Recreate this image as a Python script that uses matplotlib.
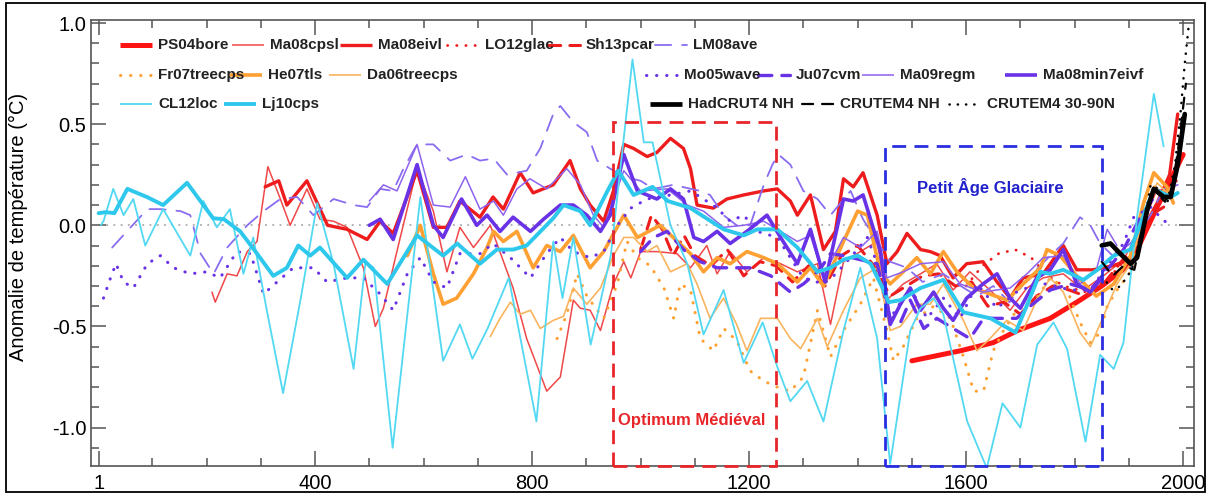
import matplotlib
matplotlib.use("Agg")
import matplotlib.pyplot as plt
from matplotlib.lines import Line2D
from matplotlib.patches import Rectangle

plt.rcParams['font.family'] = ['Liberation Sans', 'DejaVu Sans']
plt.rcParams['axes.unicode_minus'] = False

# ---- reconstructions (year, anomaly in degC) ----
ps04_year = [1500, 1590, 1650, 1695, 1755, 1810, 1850, 1903, 1952, 2000]
ps04_temp = [-0.67, -0.62, -0.58, -0.52, -0.46, -0.37, -0.30, -0.19, 0.09, 0.35]

ma08cpsl_year = [210, 216, 238, 256, 275, 293, 313, 336, 354, 385, 409, 434, 459, 489, 511, 526,
                 557, 588, 618, 643, 667, 692, 723, 765, 790, 827, 852, 876, 889, 907, 926, 950,
                 969, 982, 1000, 1030, 1067, 1092, 1122, 1141, 1165, 1196, 1227, 1258, 1289, 1326,
                 1350, 1374, 1405, 1436, 1454, 1484, 1516, 1546, 1576, 1607, 1644, 1681, 1712, 1742,
                 1779, 1816, 1853, 1890, 1927, 1952, 1975]
ma08cpsl_temp = [-0.33, -0.38, -0.24, -0.25, -0.13, -0.08, 0.29, 0.13, 0.00, 0.18, 0.03, 0.02, -0.01,
                 -0.21, -0.50, -0.41, -0.06, 0.28, 0.07, -0.23, -0.01, -0.11, 0.00, -0.31, -0.56, -0.82,
                 -0.75, -0.37, -0.41, -0.42, -0.52, -0.29, -0.18, -0.26, -0.13, -0.13, -0.14, -0.21,
                 -0.10, -0.24, -0.13, -0.23, -0.16, -0.19, -0.23, -0.19, -0.49, -0.18, -0.13, -0.08,
                 -0.37, -0.29, -0.24, -0.19, -0.32, -0.23, -0.32, -0.42, -0.31, -0.26, -0.24, -0.32,
                 -0.25, -0.17, 0.01, 0.18, 0.16]

ma08eivl_year = [308, 333, 348, 385, 423, 459, 496, 520, 544, 588, 618, 643, 667, 704, 728, 747, 778,
                 802, 839, 870, 889, 907, 932, 950, 969, 987, 1012, 1030, 1055, 1079, 1092, 1104, 1134,
                 1159, 1190, 1227, 1252, 1276, 1289, 1313, 1337, 1359, 1374, 1392, 1410, 1436, 1454,
                 1473, 1491, 1516, 1534, 1552, 1576, 1601, 1631, 1657, 1681, 1705, 1742, 1779, 1804,
                 1834, 1870, 1903, 1930, 1952, 1975, 1990]
ma08eivl_temp = [0.19, 0.22, 0.10, 0.22, 0.00, -0.02, -0.07, 0.02, -0.04, 0.27, -0.01, -0.01, 0.12,
                 0.04, 0.14, 0.08, 0.26, 0.16, 0.20, 0.32, 0.18, 0.10, 0.02, 0.17, 0.40, 0.38, 0.34,
                 0.36, 0.43, 0.38, 0.28, 0.10, 0.085, 0.13, 0.15, 0.17, 0.18, 0.12, 0.05, 0.15, -0.12,
                 -0.03, 0.23, 0.19, 0.26, 0.05, -0.19, -0.13, -0.04, -0.12, -0.13, -0.15, -0.26, -0.19,
                 -0.18, -0.28, -0.36, -0.26, -0.24, -0.10, -0.22, -0.22, -0.20, -0.17, 0.00, 0.11, 0.25,
                 0.55]

lo12_year = [1600, 1630, 1660, 1690, 1720, 1750, 1780, 1820, 1860, 1900, 1940, 1970, 1995]
lo12_temp = [-0.30, -0.20, -0.14, -0.12, -0.16, -0.25, -0.30, -0.33, -0.27, -0.15, 0.05, 0.15, 0.25]

sh13_year = [1000, 1020, 1040, 1060, 1080, 1100, 1130, 1160, 1190, 1220, 1250, 1280, 1310, 1340,
             1370, 1400, 1430, 1460, 1490, 1520, 1550, 1580, 1610, 1640, 1670, 1700, 1730, 1760,
             1790, 1820, 1850, 1880, 1910, 1940, 1970]
sh13_temp = [-0.12, 0.05, -0.02, -0.15, -0.05, -0.15, -0.20, -0.12, -0.25, -0.18, -0.20, -0.28, -0.20,
             -0.30, -0.15, -0.10, -0.20, -0.35, -0.30, -0.25, -0.24, -0.30, -0.28, -0.40, -0.38, -0.44,
             -0.35, -0.30, -0.32, -0.35, -0.30, -0.20, -0.10, 0.05, 0.10]

lm08_year = [26, 60, 91, 115, 152, 170, 189, 213, 238, 275, 305, 336, 367, 397, 434, 471, 496, 520,
             544, 563, 588, 618, 649, 680, 704, 729, 754, 790, 815, 839, 852, 876, 901, 920, 944, 970,
             1000, 1024, 1060, 1110, 1128, 1153, 1177, 1202, 1227, 1243, 1254, 1276, 1300, 1326, 1350,
             1387, 1410, 1436, 1460, 1491, 1520, 1558, 1590, 1620, 1650, 1680, 1718, 1755, 1779, 1810,
             1829, 1847, 1870, 1903, 1940, 1964, 1990]
lm08_temp = [-0.11, -0.01, 0.08, 0.08, 0.07, 0.05, -0.14, -0.24, -0.11, 0.00, 0.07, 0.13, 0.14, 0.05,
             0.13, 0.10, 0.09, 0.18, 0.17, 0.28, 0.40, 0.40, 0.32, 0.35, 0.32, 0.33, 0.25, 0.27, 0.38,
             0.55, 0.59, 0.51, 0.46, 0.32, 0.28, 0.24, 0.22, 0.18, 0.20, 0.17, 0.15, 0.05, 0.00, 0.00,
             0.20, 0.30, 0.35, 0.30, 0.17, 0.13, 0.05, 0.17, 0.03, -0.08, -0.18, -0.21, -0.28, -0.24,
             -0.30, -0.35, -0.30, -0.38, -0.25, -0.15, -0.09, 0.04, 0.00, -0.09, -0.15, -0.09, 0.05,
             0.18, 0.20]

fr07_year = [846, 864, 883, 901, 920, 932, 957, 975, 994, 1018, 1043, 1061, 1073, 1092, 1110, 1134,
             1153, 1177, 1202, 1227, 1252, 1276, 1300, 1326, 1350, 1374, 1405, 1429, 1454, 1466, 1484,
             1509, 1540, 1571, 1595, 1614, 1632, 1650, 1669, 1693, 1730, 1755, 1786, 1810, 1829, 1847,
             1860, 1878, 1903, 1927, 1946, 1970, 1990]
fr07_temp = [-0.56, -0.44, -0.24, -0.35, -0.42, -0.46, -0.29, -0.08, -0.16, -0.20, -0.31, -0.46, -0.29,
             -0.32, -0.56, -0.62, -0.51, -0.57, -0.72, -0.77, -0.80, -0.82, -0.75, -0.42, -0.65, -0.52,
             -0.39, -0.26, -0.52, -0.67, -0.60, -0.46, -0.40, -0.46, -0.65, -0.82, -0.82, -0.62, -0.52,
             -0.42, -0.36, -0.26, -0.32, -0.48, -0.58, -0.53, -0.40, -0.32, -0.23, 0.01, 0.19, 0.16,
             0.22]

he07_year = [570, 594, 618, 636, 661, 692, 717, 729, 747, 772, 802, 827, 852, 876, 907, 932, 969, 994,
             1036, 1060, 1092, 1116, 1141, 1165, 1196, 1227, 1252, 1289, 1313, 1337, 1374, 1400, 1418,
             1442, 1460, 1484, 1509, 1534, 1558, 1583, 1614, 1644, 1675, 1705, 1737, 1749, 1773, 1804,
             1840, 1872, 1903, 1927, 1946, 1970, 1982]
he07_temp = [-0.15, 0.00, -0.24, -0.39, -0.36, -0.24, -0.11, -0.03, -0.08, -0.03, -0.21, -0.10, -0.13,
             -0.05, -0.21, -0.13, 0.05, -0.06, 0.00, -0.06, -0.14, -0.23, -0.16, -0.19, -0.13, -0.16,
             -0.19, -0.28, -0.21, -0.30, -0.08, 0.07, 0.05, -0.23, -0.29, -0.23, -0.16, -0.24, -0.13,
             -0.23, -0.31, -0.34, -0.37, -0.29, -0.21, -0.12, -0.15, -0.25, -0.35, -0.29, -0.15, 0.11,
             0.26, 0.19, 0.11]

da06_year = [723, 741, 760, 778, 797, 815, 839, 858, 876, 901, 926, 950, 969, 987, 1012, 1030, 1055,
             1086, 1104, 1128, 1153, 1177, 1196, 1221, 1252, 1276, 1295, 1326, 1344, 1374, 1405, 1436,
             1460, 1479, 1509, 1534, 1558, 1595, 1620, 1644, 1675, 1705, 1730, 1755, 1779, 1810, 1829,
             1853, 1878, 1903, 1927, 1952, 1975]
da06_temp = [-0.55, -0.46, -0.38, -0.44, -0.42, -0.51, -0.47, -0.45, -0.31, -0.39, -0.31, -0.15, -0.06,
             -0.06, -0.13, -0.10, -0.23, -0.19, -0.29, -0.46, -0.36, -0.49, -0.62, -0.46, -0.46, -0.56,
             -0.61, -0.46, -0.60, -0.42, -0.26, -0.21, -0.52, -0.50, -0.39, -0.39, -0.29, -0.47, -0.62,
             -0.56, -0.47, -0.52, -0.37, -0.26, -0.33, -0.53, -0.60, -0.45, -0.29, -0.19, 0.04, 0.21,
             0.15]

mo05_year = [10, 23, 33, 47, 65, 91, 115, 139, 170, 200, 225, 256, 281, 305, 330, 360, 397, 422, 459,
             489, 520, 544, 570, 594, 618, 643, 667, 704, 728, 760, 797, 827, 852, 876, 907, 932, 957,
             982, 1012, 1055, 1092, 1116, 1141, 1165, 1190, 1215, 1252, 1276, 1300, 1337, 1360, 1390,
             1418, 1436, 1460, 1497, 1528, 1558, 1589, 1620, 1657, 1693, 1730, 1749, 1792, 1829, 1860,
             1890, 1909, 1940, 1958, 1977]
mo05_temp = [-0.36, -0.26, -0.19, -0.28, -0.31, -0.19, -0.15, -0.21, -0.24, -0.23, -0.26, -0.13, -0.14,
             -0.34, -0.28, -0.21, -0.21, -0.28, -0.26, -0.26, -0.34, -0.42, -0.24, -0.16, -0.28, -0.31,
             -0.14, -0.14, -0.09, -0.16, -0.26, -0.14, -0.06, -0.13, -0.16, -0.13, 0.00, 0.085, 0.13,
             0.15, 0.17, 0.13, 0.085, 0.02, 0.05, -0.03, -0.06, -0.16, -0.26, -0.29, -0.24, -0.15,
             -0.06, -0.19, -0.46, -0.31, -0.46, -0.36, -0.46, -0.29, -0.41, -0.33, -0.29, -0.29, -0.32,
             -0.32, -0.20, -0.09, 0.04, 0.09, 0.04, -0.005]

ju07_year = [1000, 1024, 1049, 1079, 1110, 1141, 1171, 1202, 1240, 1276, 1300, 1330, 1350, 1374, 1405,
             1436, 1460, 1479, 1497, 1522, 1546, 1576, 1607, 1632, 1657, 1693, 1718, 1755, 1792, 1829,
             1860, 1890, 1921, 1952, 1982]
ju07_temp = [-0.13, -0.06, -0.03, -0.12, -0.18, -0.21, -0.21, -0.21, -0.25, -0.33, -0.29, -0.22, -0.14,
             -0.15, -0.17, -0.19, -0.46, -0.48, -0.37, -0.51, -0.46, -0.51, -0.56, -0.46, -0.46, -0.46,
             -0.40, -0.32, -0.29, -0.32, -0.22, -0.12, 0.04, 0.16, 0.14]

ma09_year = [500, 526, 551, 588, 618, 649, 677, 704, 729, 747, 772, 796, 827, 864, 889, 913, 932, 969,
             1000, 1049, 1086, 1116, 1153, 1190, 1227, 1258, 1289, 1313, 1337, 1374, 1405, 1436, 1454,
             1484, 1516, 1558, 1589, 1631, 1681, 1712, 1742, 1779, 1810, 1840, 1860, 1878]
ma09_temp = [0.12, 0.20, 0.17, 0.40, 0.10, 0.09, 0.24, 0.08, 0.12, 0.05, 0.18, 0.23, 0.18, 0.28, 0.20,
             0.05, -0.01, 0.27, 0.17, 0.18, 0.10, 0.07, -0.01, 0.00, 0.02, -0.03, -0.08, -0.05, -0.25,
             -0.06, -0.11, -0.03, -0.26, -0.23, -0.19, -0.18, -0.29, -0.33, -0.31, -0.24, -0.16, -0.15,
             -0.29, -0.22, -0.02, -0.10]

ma08min_year = [500, 520, 544, 588, 618, 636, 670, 698, 717, 741, 765, 797, 821, 852, 876, 901, 926,
                944, 969, 994, 1030, 1055, 1079, 1098, 1116, 1141, 1165, 1196, 1233, 1258, 1289, 1313,
                1340, 1374, 1392, 1410, 1442, 1460, 1479, 1497, 1516, 1540, 1558, 1576, 1601, 1631,
                1657, 1681, 1700, 1730, 1755, 1779, 1804, 1829, 1847]
ma08min_temp = [0.00, 0.03, -0.07, 0.30, 0.00, -0.06, 0.13, 0.00, 0.05, -0.03, 0.04, -0.03, 0.03, 0.10,
                0.10, 0.05, -0.03, 0.05, 0.35, 0.17, 0.13, 0.18, 0.13, -0.06, -0.08, -0.03, -0.09,
                -0.03, 0.05, -0.06, -0.19, -0.02, -0.28, 0.13, 0.12, 0.15, -0.13, -0.49, -0.39, -0.31,
                -0.42, -0.33, -0.41, -0.47, -0.36, -0.29, -0.24, -0.36, -0.41, -0.26, -0.22, -0.12,
                -0.29, -0.33, -0.27]

cl12_year = [5, 10, 28, 47, 65, 87, 120, 170, 194, 219, 243, 268, 286, 311, 341, 373, 404, 434, 471,
             493, 508, 543, 594, 636, 667, 690, 718, 757, 808, 839, 856, 876, 908, 945, 985, 1006, 1022,
             1055, 1086, 1116, 1153, 1190, 1225, 1252, 1276, 1307, 1337, 1374, 1405, 1436, 1460, 1497,
             1516, 1540, 1558, 1602, 1638, 1667, 1681, 1700, 1731, 1761, 1786, 1820, 1847, 1872, 1890,
             1915, 1946, 1964]
cl12_temp = [0.00, 0.02, 0.18, 0.05, 0.13, -0.10, 0.08, -0.15, 0.12, -0.01, 0.08, -0.24, -0.06, -0.42,
             -0.83, -0.37, 0.11, -0.19, -0.71, -0.18, -0.21, -1.10, 0.14, -0.67, -0.49, -0.66, -0.51,
             -0.26, -0.97, -0.08, -0.36, -0.06, -0.59, -0.15, 0.82, 0.41, 0.41, 0.00, -0.19, -0.54,
             -0.32, -0.68, -0.48, -0.70, -0.87, -0.77, -0.97, -0.52, -0.21, -0.56, -1.18, -0.52, -0.41,
             -0.36, -0.44, -0.97, -1.20, -0.88, -0.93, -1.00, -0.59, -0.48, -0.61, -1.07, -0.64, -0.71,
             -0.58, 0.04, 0.65, 0.39]

lj10_year = [1, 14, 30, 54, 90, 120, 164, 212, 232, 262, 293, 323, 348, 369, 391, 409, 459, 489, 533,
             588, 636, 662, 704, 735, 765, 790, 839, 858, 889, 907, 939, 959, 987, 1022, 1050, 1092,
             1153, 1190, 1215, 1252, 1289, 1326, 1350, 1374, 1400, 1424, 1446, 1457, 1479, 1516, 1558,
             1595, 1645, 1691, 1713, 1737, 1755, 1779, 1816, 1842, 1872, 1903, 1946, 1977, 1990]
lj10_temp = [0.06, 0.065, 0.06, 0.18, 0.14, 0.10, 0.21, 0.035, 0.03, -0.03, -0.14, -0.25, -0.21, -0.10,
             -0.15, -0.11, -0.26, -0.17, -0.29, -0.05, -0.15, -0.09, -0.19, -0.12, -0.12, -0.10, 0.035,
             0.10, 0.07, 0.00, 0.17, 0.27, 0.15, 0.19, 0.12, 0.085, -0.02, -0.05, -0.02, -0.02, -0.11,
             -0.23, -0.21, -0.17, -0.15, -0.19, -0.31, -0.38, -0.37, -0.31, -0.27, -0.43, -0.46, -0.53,
             -0.39, -0.23, -0.24, -0.22, -0.27, -0.22, -0.15, -0.12, 0.18, 0.14, 0.16]

# ---- instrumental ----
hadcrut_year = [1850, 1866, 1884, 1903, 1915, 1934, 1946, 1964, 1977, 1990, 2003]
hadcrut_temp = [-0.10, -0.09, -0.14, -0.19, -0.16, 0.08, 0.18, 0.14, 0.14, 0.30, 0.55]

crutem_year = [1850, 1870, 1890, 1910, 1930, 1945, 1965, 1978, 1992, 2005]
crutem_temp = [-0.18, -0.25, -0.20, -0.22, 0.02, 0.18, 0.12, 0.15, 0.40, 0.70]

crutem3090_year = [1850, 1870, 1885, 1905, 1925, 1940, 1955, 1970, 1985, 1995, 2003, 2010]
crutem3090_temp = [-0.25, -0.32, -0.30, -0.22, -0.05, 0.20, 0.18, 0.10, 0.30, 0.55, 0.80, 0.98]

# periods
medieval = (950, 1250, 0.51)
lia = (1450, 1850, 0.39)

red = '#ee1c1c'
orange = '#ffa033'
purple = '#6a32e6'
dots = (0, (0.1, 3.2))

# name, x, y, color, width, linestyle
series = [
    ('PS04bore', ps04_year, ps04_temp, '#ff1414', 3.6, '-'),
    ('Ma08cpsl', ma08cpsl_year, ma08cpsl_temp, '#f04848', 1.1, '-'),
    ('Ma08eivl', ma08eivl_year, ma08eivl_temp, red, 2.4, '-'),
    ('LO12glac', lo12_year, lo12_temp, red, 2.0, dots),
    ('Sh13pcar', sh13_year, sh13_temp, red, 2.2, (0, (4, 3))),
    ('LM08ave', lm08_year, lm08_temp, '#8a6cf0', 1.3, (0, (9, 6))),
    ('Fr07treecps', fr07_year, fr07_temp, orange, 2.2, dots),
    ('He07tls', he07_year, he07_temp, orange, 2.6, '-'),
    ('Da06treecps', da06_year, da06_temp, '#f9b45e', 1.2, '-'),
    ('Mo05wave', mo05_year, mo05_temp, purple, 2.2, dots),
    ('Ju07cvm', ju07_year, ju07_temp, purple, 2.4, (0, (4, 3))),
    ('Ma09regm', ma09_year, ma09_temp, '#8e62ee', 1.1, '-'),
    ('Ma08min7eivf', ma08min_year, ma08min_temp, purple, 2.6, '-'),
    ('CL12loc', cl12_year, cl12_temp, '#52d8f2', 1.3, '-'),
    ('Lj10cps', lj10_year, lj10_temp, '#2ec8ec', 2.8, '-'),
    ('HadCRUT4 NH', hadcrut_year, hadcrut_temp, 'black', 3.4, '-'),
    ('CRUTEM4 NH', crutem_year, crutem_temp, 'black', 1.6, (0, (5, 4))),
    ('CRUTEM4 30-90N', crutem3090_year, crutem3090_temp, 'black', 1.8, dots),
]

# legend slots: (x of line start, y) in figure pixels
legend_pos = {
    'PS04bore': (120, 45), 'Ma08cpsl': (232, 45), 'Ma08eivl': (340, 45),
    'LO12glac': (447, 45), 'Sh13pcar': (548, 45), 'LM08ave': (655, 45),
    'Fr07treecps': (120, 75), 'He07tls': (230, 75), 'Da06treecps': (329, 75),
    'Mo05wave': (646, 75), 'Ju07cvm': (758, 75), 'Ma09regm': (862, 75), 'Ma08min7eivf': (1005, 75),
    'CL12loc': (120, 104), 'Lj10cps': (224, 104),
    'HadCRUT4 NH': (650, 104), 'CRUTEM4 NH': (802, 104), 'CRUTEM4 30-90N': (949, 104),
}

W, H = 1211, 495
fig = plt.figure(figsize=(W / 100, H / 100), dpi=100)
ax = fig.add_axes([91 / W, 29 / H, 1103 / W, 446 / H])

ax.hlines(0, 1, 2000, colors='#aaaaaa', linestyles=(0, (1, 3)), lw=1.3, zorder=1)

for name, x, y, c, lw, ls in series:
    ax.plot(x, y, color=c, lw=lw, ls=ls, solid_joinstyle='round', solid_capstyle='round',
            dash_capstyle='round', zorder=2)

# period boxes
for (x0, x1, top), c in [(medieval, '#e8262a'), (lia, '#2a2ee0')]:
    ax.add_patch(Rectangle((x0, -1.19), x1 - x0, top + 1.19, fill=False, ec=c, lw=2.0,
                           ls=(0, (5, 3)), zorder=3, clip_on=False))
ax.text(1095, -0.965, 'Optimum Médiéval', color='#e8262a', fontsize=12, fontweight='bold',
        ha='center', va='center')
ax.text(1645, 0.187, 'Petit Âge Glaciaire', color='#2222cc', fontsize=12, fontweight='bold',
        ha='center', va='center')

ax.set_xlim(-13, 2020)
ax.set_ylim(-1.19, 1.015)
ax.set_xticks([1, 400, 800, 1200, 1600, 2000])
ax.set_xticks([y for y in range(100, 2000, 100) if y % 400 != 0], minor=True)
ax.set_yticks([-1.0, -0.5, 0.0, 0.5, 1.0])
ax.set_yticklabels(['-1.0', '-0.5', '0.0', '0.5', '1.0'])
ax.set_yticks([v / 10 for v in range(-11, 11) if v % 5 != 0], minor=True)
ax.tick_params(which='both', direction='in', top=True, right=True, color='#555555',
               labelsize=14.5, width=1.1)
ax.tick_params(which='major', length=11)
ax.tick_params(which='minor', length=6)
ax.tick_params(axis='x', pad=6)
for s in ax.spines.values():
    s.set_color('#555555')
    s.set_linewidth(1.2)
ax.set_ylabel('Anomalie de température (°C)', fontsize=14.5)
ax.yaxis.set_label_coords(-0.057, 0.535)

# hand-placed legend
for name, x, y, c, lw, ls in series:
    px, py = legend_pos[name]
    fy = 1 - py / H
    fig.add_artist(Line2D([px / W, (px + 32) / W], [fy, fy], color=c, lw=lw, ls=ls,
                          dash_capstyle='round', solid_capstyle='butt'))
    fig.text((px + 38) / W, fy, name, fontsize=11, fontweight='bold', va='center', ha='left',
             color='#222222')

fig.add_artist(Rectangle((6 / W, 3 / H), 1199 / W, 489 / H, transform=fig.transFigure,
                         fill=False, ec='black', lw=1.3))

fig.savefig('out.png', dpi=100)
